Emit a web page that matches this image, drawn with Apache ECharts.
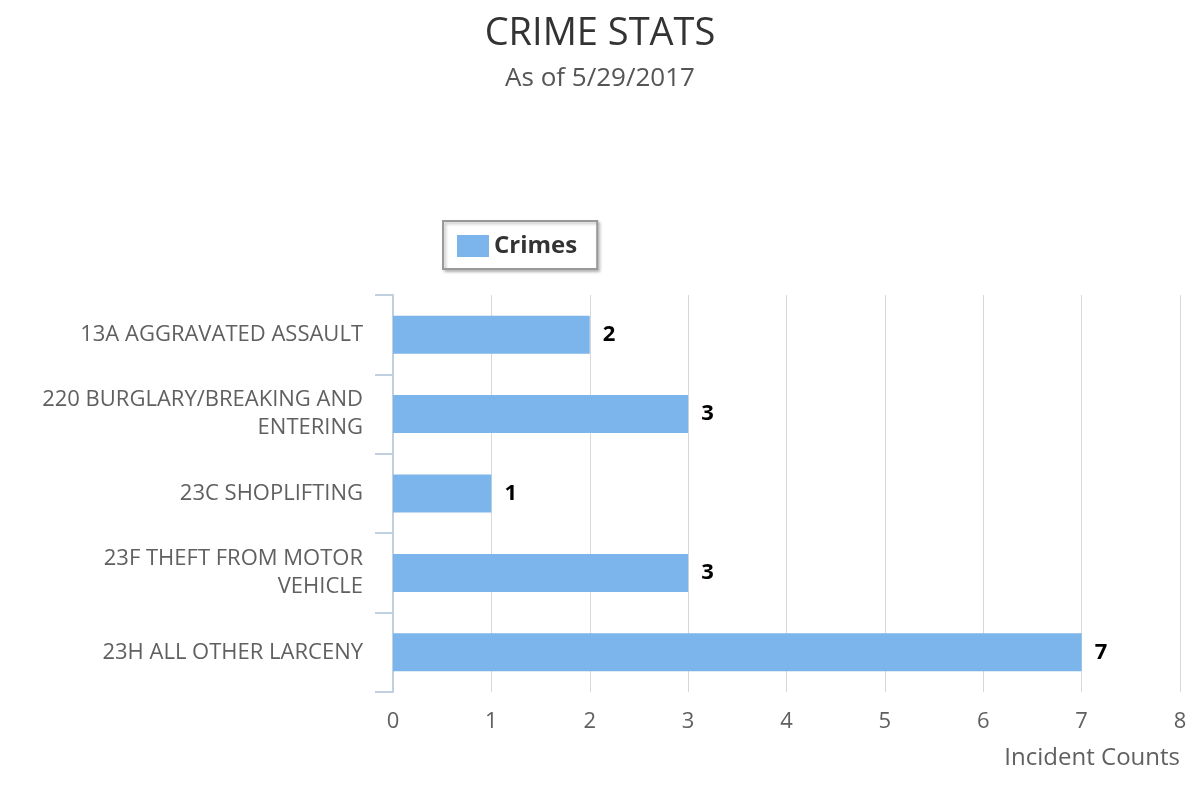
<!DOCTYPE html>
<html>
<head>
<meta charset="utf-8">
<script src="https://cdn.jsdelivr.net/npm/echarts@6/dist/echarts.min.js"></script>
<style>html,body{margin:0;padding:0;background:#fff}#c{width:1200px;height:800px}</style>
</head>
<body>
<div id="c"></div>
<script>
const categories = [
  "13A AGGRAVATED ASSAULT",
  "220 BURGLARY/BREAKING AND\nENTERING",
  "23C SHOPLIFTING",
  "23F THEFT FROM MOTOR\nVEHICLE",
  "23H ALL OTHER LARCENY"
];
const crimes = [2, 3, 1, 3, 7];
const xTicks = [0, 1, 2, 3, 4, 5, 6, 7, 8];

const FONT = '"Open Sans", "Noto Sans", sans-serif';
const chart = echarts.init(document.getElementById('c'), null, {renderer: 'canvas'});
chart.setOption({
  animation: false,
  textStyle: {fontFamily: FONT},
  title: {
    text: 'CRIME STATS',
    subtext: 'As of 5/29/2017',
    left: 'center',
    top: 10,
    itemGap: 13,
    textStyle: {fontFamily: FONT, fontSize: 38, fontWeight: 'normal', color: '#333333'},
    subtextStyle: {fontFamily: FONT, fontSize: 26, color: '#555555'}
  },
  legend: {
    left: 443,
    top: 221,
    padding: [13, 20, 11, 14],
    borderColor: '#999999',
    borderWidth: 2,
    backgroundColor: '#ffffff',
    shadowColor: 'rgba(0,0,0,0.25)',
    shadowBlur: 3,
    shadowOffsetX: 2,
    shadowOffsetY: 2,
    itemWidth: 32,
    itemHeight: 22,
    itemGap: 10,
    icon: 'rect',
    textStyle: {fontFamily: FONT, fontSize: 24, fontWeight: 'bold', color: '#333333', padding: [4, 0, 0, 0]},
    data: ['Crimes']
  },
  grid: {left: 393, right: 20, top: 295, bottom: 108, containLabel: false},
  xAxis: {
    type: 'value',
    min: xTicks[0],
    max: xTicks[xTicks.length - 1],
    interval: 1,
    name: 'Incident Counts',
    nameLocation: 'end',
    nameGap: 0,
    nameTextStyle: {fontFamily: FONT, fontSize: 24, color: '#606060', align: 'right', verticalAlign: 'top', padding: [54, 0, 0, 0]},
    axisLine: {show: false},
    axisTick: {show: false},
    axisLabel: {fontFamily: FONT, fontSize: 22, color: '#606060', margin: 19},
    splitLine: {show: true, lineStyle: {color: '#d8d8d8', width: 1}}
  },
  yAxis: {
    type: 'category',
    inverse: true,
    data: categories,
    axisLine: {show: true, lineStyle: {color: '#c0d0e0', width: 2}},
    axisTick: {show: true, length: 18, lineStyle: {color: '#c0d0e0', width: 2}},
    axisLabel: {fontFamily: FONT, fontSize: 22, color: '#606060', margin: 30, lineHeight: 28, align: 'right', padding: [6, 0, 0, 0]},
    splitLine: {show: false}
  },
  series: [{
    name: 'Crimes',
    type: 'bar',
    data: crimes,
    barWidth: 38,
    itemStyle: {color: '#7cb5ec'},
    label: {show: true, position: 'right', distance: 13, fontFamily: FONT, fontSize: 22, fontWeight: 'bold', color: '#000000', padding: [6, 0, 0, 0]}
  }]
});
</script>
</body>
</html>
